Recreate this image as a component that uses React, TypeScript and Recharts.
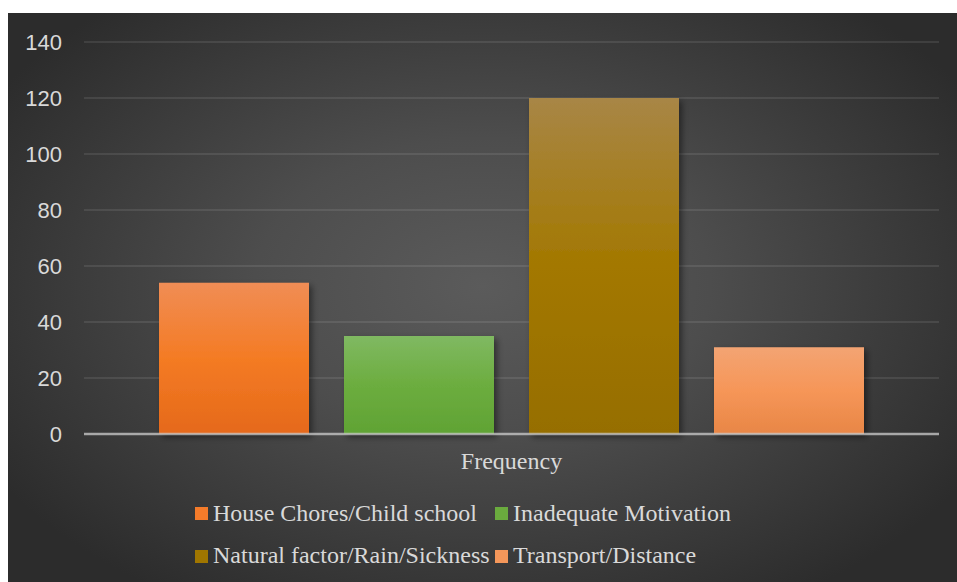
import React from 'react';
import { BarChart, Bar, XAxis, YAxis, CartesianGrid, Legend } from 'recharts';

const categories = ['Frequency'];
const seriesNames = [
  'House Chores/Child school',
  'Inadequate Motivation',
  'Natural factor/Rain/Sickness',
  'Transport/Distance',
];
const seriesKeys = ['hc', 'im', 'nf', 'td'];
const seriesValues = [54, 35, 120, 31];
const yTicks = [0, 20, 40, 60, 80, 100, 120, 140];

const gradients = [
  ['#f08d55', '#f47b24', '#e5691a'],
  ['#80b962', '#6cad3f', '#60a334'],
  ['#a88646', '#a37800', '#966e00'],
  ['#f3a473', '#f69658', '#e88646'],
];
const swatch = ['#f47b2a', '#6aab3e', '#a07600', '#f5975a'];

const data = categories.map((c) => {
  const row: Record<string, any> = { name: c };
  seriesKeys.forEach((k, i) => {
    row[k] = seriesValues[i];
  });
  return row;
});

const W = 949;
const H = 569;
const LH = 108;

const LegendContent = () => {
  const cols = [
    { sq: 187, tx: 205 },
    { sq: 487, tx: 505 },
  ];
  const rows = [
    { sq: 33, tx: 26.9 },
    { sq: 76, tx: 68.9 },
  ];
  return (
    <div style={{ position: 'relative', width: W, height: LH }}>
      {seriesNames.map((n, i) => {
        const c = cols[i % 2];
        const r = rows[Math.floor(i / 2)];
        return (
          <React.Fragment key={n}>
            <div
              style={{
                position: 'absolute',
                left: c.sq,
                top: r.sq,
                width: 13,
                height: 13,
                background: swatch[i],
              }}
            />
            <div
              style={{
                position: 'absolute',
                left: c.tx,
                top: r.tx,
                fontFamily: '"Liberation Serif", serif',
                fontSize: 24,
                lineHeight: '24px',
                color: '#d9d9d9',
                whiteSpace: 'nowrap',
              }}
            >
              {n}
            </div>
          </React.Fragment>
        );
      })}
    </div>
  );
};

export default function App() {
  return (
    <div
      style={{
        width: 957,
        height: 582,
        boxSizing: 'border-box',
        paddingLeft: 8,
        paddingTop: 13,
        background: '#ffffff',
        overflow: 'hidden',
      }}
    >
      <style>{'html,body{margin:0;padding:0;overflow:hidden;}'}</style>
      <div
        style={{
          width: W,
          height: H,
          overflow: 'hidden',
          background:
            'radial-gradient(ellipse 60% 65% at 50% 48%, #5b5b5b 0%, #4d4d4d 40%, #2c2c2c 100%)',
        }}
      >
        <BarChart
          width={W}
          height={H}
          data={data}
          margin={{ top: 29, right: 18, left: 0, bottom: 0 }}
          barCategoryGap={75}
          barGap={35}
        >
          <defs>
            {gradients.map((g, i) => (
              <linearGradient key={i} id={`g${i}`} x1="0" y1="0" x2="0" y2="1">
                <stop offset="0%" stopColor={g[0]} />
                <stop offset="50%" stopColor={g[1]} />
                <stop offset="100%" stopColor={g[2]} />
              </linearGradient>
            ))}
            <filter id="shadow" x="-20%" y="-20%" width="140%" height="140%">
              <feDropShadow dx="3" dy="3" stdDeviation="3" floodColor="#000" floodOpacity="0.45" />
            </filter>
          </defs>
          <CartesianGrid
            vertical={false}
            stroke="rgba(255,255,255,0.09)"
            strokeWidth={2}
          />
          <XAxis
            dataKey="name"
            height={40}
            tickLine={false}
            tickSize={0}
            tickMargin={18}
            axisLine={{ stroke: 'rgba(200,200,200,0.75)', strokeWidth: 2.5 }}
            tick={{ fill: '#d9d9d9', fontSize: 24, fontFamily: '"Liberation Serif", serif' }}
          />
          <YAxis
            domain={[0, 140]}
            ticks={yTicks}
            width={76}
            tickLine={false}
            axisLine={false}
            tickSize={0}
            tickMargin={22}
            tick={{ fill: '#d9d9d9', fontSize: 22, fontFamily: '"Liberation Sans", sans-serif' }}
          />
          <Legend
            verticalAlign="bottom"
            height={LH}
            wrapperStyle={{ left: 0, bottom: 0, width: W, height: LH }}
            content={() => <LegendContent />}
          />
          {seriesKeys.map((k, i) => (
            <Bar
              key={k}
              dataKey={k}
              name={seriesNames[i]}
              fill={`url(#g${i})`}
              filter="url(#shadow)"
              isAnimationActive={false}
            />
          ))}
        </BarChart>
      </div>
    </div>
  );
}
